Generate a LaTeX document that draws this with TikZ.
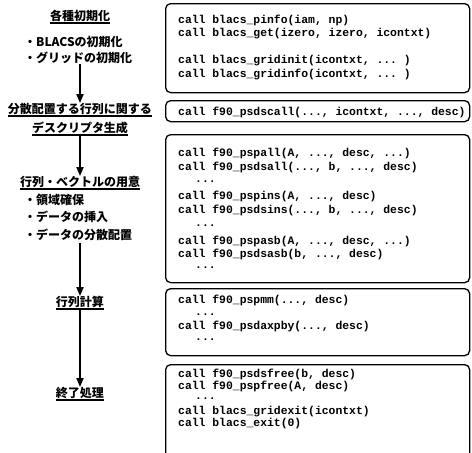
\documentclass[tikz,border=0pt]{standalone}
\usepackage{fontspec}
\setmonofont{Liberation Mono}
\newfontfamily\jp{Noto Sans CJK JP}
\usetikzlibrary{arrows.meta}
\begin{document}
\begin{tikzpicture}[x=1pt,y=-1pt,
  head/.style={font=\jp\bfseries\fontsize{12}{14}\selectfont, inner sep=0pt, anchor=center},
  bul/.style={font=\jp\bfseries\fontsize{12}{14}\selectfont, inner sep=0pt, anchor=west},
  uline/.style={line width=1.4pt},
  flow/.style={line width=1.8pt, -{Triangle[length=9pt,width=7pt]}},
  codebox/.style={draw, line width=1.3pt, rounded corners=5pt, anchor=north west, minimum width=304pt, inner sep=0pt},
  code/.style={font=\ttfamily\bfseries\fontsize{11.4}{13}\selectfont, inner sep=0pt, anchor=base west}]
\useasboundingbox (0,0) rectangle (472,453);
\clip (0,0) rectangle (472,453);

% left column
\node[head] (h1) at (80,16) {各種初期化};
\node[bul] (h1a) at (24,42) {・BLACSの初期化};
\node[bul] (h1b) at (24,58) {・グリッドの初期化};
\node[head] (h2) at (80,109) {分散配置する行列に関する};
\node[head] (h2b) at (80,128) {デスクリプタ生成};
\node[head] (h3) at (80,182) {行列・ベクトルの用意};
\node[bul] (h3a) at (24,200) {・領域確保};
\node[bul] (h3b) at (24,217) {・データの挿入};
\node[bul] (h3c) at (24,235) {・データの分散配置};
\node[head] (h4) at (80,302) {行列計算};
\node[head] (h5) at (80,393) {終了処理};

\foreach \n in {h1,h2,h2b,h3,h4,h5}
  \draw[uline] ([yshift=-7pt]\n.west) -- ([yshift=-7pt]\n.east);

\draw[flow] (h1b.south -| h1.south) -- (h2.north);
\draw[flow, shorten <=2pt] (h2b.south) -- (h3.north);
\draw[flow, shorten <=2pt] (h3c.south -| h3.south) -- (h4.north);
\draw[flow] (h4.south) -- (h5.north);

% boxes
\node[codebox, minimum height=89pt] (b1) at (165,3) {};
\node[codebox, minimum height=21pt] (b2) at (165,100) {};
\node[codebox, minimum height=148pt] (b3) at (165,134) {};
\node[codebox, minimum height=67pt] (b4) at (165,288) {};
\node[codebox, minimum height=110pt] (b5) at (165,364) {};

% code lines
\node[code] (c11) at (178,23) {call blacs\_pinfo(iam, np)};
\node[code] (c12) at (178,36) {call blacs\_get(izero, izero, icontxt)};
\node[code] (c13) at (178,63) {call blacs\_gridinit(icontxt, ... )};
\node[code] (c14) at (178,77) {call blacs\_gridinfo(icontxt, ... )};

\node[code] (c21) at (178,115) {call f90\_psdscall(..., icontxt, ..., desc)};

\node[code] (c31) at (178,156) {call f90\_pspall(A, ..., desc, ...)};
\node[code] (c32) at (178,170) {call f90\_psdsall(..., b, ..., desc)};
\node[code] (c33) at (195,182) {...};
\node[code] (c34) at (178,199) {call f90\_pspins(A, ..., desc)};
\node[code] (c35) at (178,213) {call f90\_psdsins(..., b, ..., desc)};
\node[code] (c36) at (195,226) {...};
\node[code] (c37) at (178,244) {call f90\_pspasb(A, ..., desc, ...)};
\node[code] (c38) at (178,257) {call f90\_psdsasb(b, ..., desc)};
\node[code] (c39) at (195,268) {...};

\node[code] (c41) at (178,303) {call f90\_pspmm(..., desc)};
\node[code] (c42) at (195,315) {...};
\node[code] (c43) at (178,329) {call f90\_psdaxpby(..., desc)};
\node[code] (c44) at (195,340) {...};

\node[code] (c51) at (178,377) {call f90\_psdsfree(b, desc)};
\node[code] (c52) at (178,389) {call f90\_pspfree(A, desc)};
\node[code] (c53) at (195,399) {...};
\node[code] (c54) at (178,414) {call blacs\_gridexit(icontxt)};
\node[code] (c55) at (178,426) {call blacs\_exit(0)};
\end{tikzpicture}
\end{document}
